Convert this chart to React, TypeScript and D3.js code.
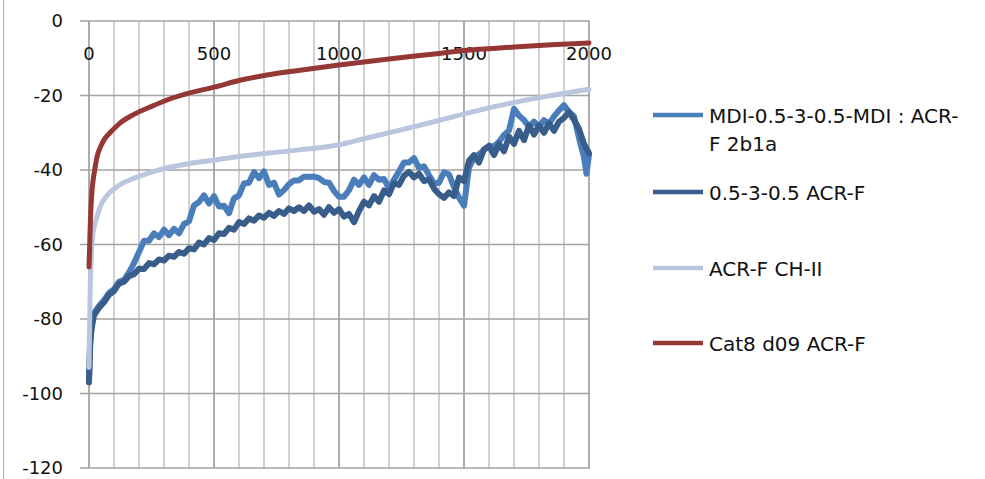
import React, { useRef, useEffect } from 'react';
import * as d3 from 'd3';

type Pt = [number, number];

// tick labels
const yTicks = [0, -20, -40, -60, -80, -100, -120];
const xTicks = [0, 500, 1000, 1500, 2000];
const xGrid = [0, 100, 200, 300, 400, 500, 600, 700, 800, 900, 1000, 1100, 1200, 1300, 1400, 1500, 1600, 1700, 1800, 1900, 2000];

const legendNames = ['MDI-0.5-3-0.5-MDI : ACR-|F 2b1a', '0.5-3-0.5 ACR-F', 'ACR-F CH-II', 'Cat8 d09 ACR-F'];

// MDI-0.5-3-0.5-MDI : ACR-F 2b1a
const mdiSeries: Pt[] = [
  [0, -96], [4, -87], [8, -83], [12, -81], [16, -80], [20, -78.5], [40, -76.5], [60, -75], [80, -73],
  [100, -72], [120, -70], [140, -69.5], [160, -67.5], [180, -65], [200, -62], [220, -59], [240, -59],
  [260, -57], [280, -58], [300, -56], [320, -57.5], [340, -55.8], [360, -57], [380, -54.5], [400, -53.8],
  [420, -49.5], [440, -48.6], [460, -46.8], [480, -49], [500, -47], [520, -49.8], [540, -49.6], [560, -51.6],
  [580, -47.6], [600, -46.8], [620, -43.6], [640, -43.4], [660, -40.6], [680, -42.2], [700, -40.4], [720, -44],
  [740, -43.4], [760, -46.6], [780, -45.4], [800, -43.8], [820, -42.8], [840, -42.8], [860, -41.8],
  [880, -41.8], [900, -41.8], [920, -42.2], [940, -43.2], [960, -43.4], [980, -45.6], [1000, -47.2],
  [1020, -47.2], [1040, -45.4], [1060, -42.6], [1080, -44], [1100, -42], [1120, -44], [1140, -41.4],
  [1160, -42.6], [1180, -42.4], [1200, -45], [1220, -42.6], [1240, -40.4], [1260, -38], [1280, -38],
  [1300, -36.8], [1320, -39.4], [1340, -39], [1360, -41.4], [1380, -43.6], [1400, -43.4], [1420, -40.6],
  [1440, -41.2], [1460, -44.6], [1480, -47.4], [1500, -49.6], [1520, -39.4], [1540, -36.6], [1560, -35.8],
  [1580, -34.6], [1600, -33.6], [1620, -33.6], [1640, -32.4], [1660, -30.6], [1680, -29.4], [1700, -23.6],
  [1720, -25.4], [1740, -26.6], [1760, -28.4], [1780, -27], [1800, -28.4], [1820, -26.6], [1840, -27.6],
  [1860, -25.6], [1880, -24], [1900, -22.6], [1920, -24.4], [1940, -25.6], [1960, -31.4], [1980, -36.6],
  [1990, -41], [2000, -36]
];

// 0.5-3-0.5 ACR-F
const baseSeries: Pt[] = [
  [0, -97], [2, -93], [4, -88], [8, -84], [12, -82], [16, -80.5], [20, -79], [40, -77], [60, -75.5],
  [80, -73.5], [100, -72.5], [120, -70.5], [140, -70], [160, -68.5], [180, -68], [200, -66.5], [220, -66.6],
  [240, -65], [260, -65.3], [280, -64], [300, -64.3], [320, -63], [340, -63.3], [360, -62], [380, -62.5],
  [400, -61], [420, -61.3], [440, -59.5], [460, -60], [480, -58.3], [500, -58.8], [520, -57], [540, -57.2],
  [560, -55.5], [580, -56], [600, -54], [620, -54.5], [640, -53], [660, -53.6], [680, -52.2], [700, -52.8],
  [720, -51.5], [740, -52.3], [760, -51], [780, -51.8], [800, -50.3], [820, -51], [840, -50], [860, -51],
  [880, -49.5], [900, -51.2], [920, -50.5], [940, -52], [960, -50], [980, -51.5], [1000, -50.5],
  [1020, -52.5], [1040, -51.8], [1060, -54], [1080, -51], [1100, -48.5], [1120, -49.5], [1140, -47],
  [1160, -48.5], [1180, -45.5], [1200, -46.5], [1220, -43.5], [1240, -44], [1260, -41.5], [1280, -40.5],
  [1300, -42], [1320, -41], [1340, -43], [1360, -42.5], [1380, -45], [1400, -46.5], [1420, -47.5],
  [1440, -46], [1460, -47], [1480, -42], [1500, -43], [1520, -37.5], [1540, -36], [1560, -38],
  [1580, -34.5], [1600, -33.5], [1620, -36], [1640, -33], [1660, -35], [1680, -31], [1700, -33],
  [1720, -29.5], [1740, -32], [1760, -28], [1780, -30.5], [1800, -28], [1820, -30], [1840, -27.5],
  [1860, -29.5], [1880, -27], [1900, -26], [1920, -24.5], [1940, -26.5], [1960, -29], [1980, -33],
  [2000, -35.5]
];

// ACR-F CH-II
const chSeries: Pt[] = [
  [0, -93], [2, -84], [4, -75], [8, -65], [16, -57], [30, -53], [44, -50], [70, -47], [112, -44.5],
  [176, -42.3], [240, -40.8], [312, -39.4], [400, -38.3], [504, -37.3], [600, -36.4], [712, -35.5],
  [844, -34.6], [964, -33.6], [1000, -33.2], [1100, -31.6], [1244, -29.3], [1400, -26.7], [1508, -24.8],
  [1712, -21.7], [1850, -20], [2000, -18.3]
];

// Cat8 d09 ACR-F
const cat8Series: Pt[] = [
  [0, -66], [2, -62], [4, -57], [8, -50], [12, -45.5], [16, -43], [24, -39.5], [32, -36.5], [48, -33.5],
  [64, -31.5], [84, -30], [124, -27.4], [176, -25.2], [244, -23.1], [312, -21.2], [392, -19.5],
  [504, -17.7], [604, -15.9], [712, -14.5], [844, -13.2], [1000, -11.8], [1200, -10.2], [1400, -8.7],
  [1500, -7.9], [1700, -7], [1850, -6.4], [2000, -5.9]
];

const COLORS = ['#4a7ebb', '#385d8a', '#b9c6de', '#953735'];
const FONT = '"DejaVu Sans", sans-serif';

function drawChart(svgEl: SVGSVGElement) {
  const svg = d3.select(svgEl);
  svg.selectAll('*').remove();

  const x = d3.scaleLinear().domain([0, 2000]).range([89, 589]);
  const y = d3.scaleLinear().domain([-120, 0]).range([468, 21]);

  // outer border on the left
  svg.append('line')
    .attr('x1', 3.5).attr('x2', 3.5).attr('y1', 0).attr('y2', 479)
    .attr('stroke', '#b0b0b0').attr('stroke-width', 1);

  // vertical gridlines, darker every 500
  svg.selectAll('.vgrid')
    .data(xGrid)
    .enter()
    .append('line')
    .attr('x1', (d) => x(d)).attr('x2', (d) => x(d))
    .attr('y1', y(0)).attr('y2', y(-120))
    .attr('stroke', (d) => (d % 500 === 0 ? '#999999' : '#c6c6c6'))
    .attr('stroke-width', 1.6);

  // horizontal gridlines (with tick stub on the left)
  svg.selectAll('.hgrid')
    .data(yTicks)
    .enter()
    .append('line')
    .attr('x1', x(0) - 9).attr('x2', x(2000) + 1)
    .attr('y1', (d) => y(d)).attr('y2', (d) => y(d))
    .attr('stroke', '#a3a3a3')
    .attr('stroke-width', 1.6);

  // y labels
  svg.selectAll('.ylab')
    .data(yTicks)
    .enter()
    .append('text')
    .attr('x', 63).attr('y', (d) => y(d)).attr('dy', '0.36em')
    .attr('text-anchor', 'end')
    .attr('font-family', FONT).attr('font-size', 18).attr('fill', '#111')
    .text((d) => d);

  // x labels (axis crosses at 0, labels sit under the top line)
  svg.selectAll('.xlab')
    .data(xTicks)
    .enter()
    .append('text')
    .attr('x', (d) => x(d)).attr('y', 54).attr('dy', '0.36em')
    .attr('text-anchor', 'middle')
    .attr('font-family', FONT).attr('font-size', 18).attr('fill', '#111')
    .text((d) => d);

  const line = d3.line<Pt>().x((d) => x(d[0])).y((d) => y(d[1]));
  const smooth = d3.line<Pt>().x((d) => x(d[0])).y((d) => y(d[1])).curve(d3.curveMonotoneX);

  const series: { data: Pt[]; gen: d3.Line<Pt>; width: number }[] = [
    { data: mdiSeries, gen: line, width: 6 },
    { data: baseSeries, gen: line, width: 6 },
    { data: chSeries, gen: smooth, width: 5 },
    { data: cat8Series, gen: smooth, width: 5 }
  ];
  series.forEach((s, i) => {
    svg.append('path')
      .attr('d', s.gen(s.data) as string)
      .attr('fill', 'none')
      .attr('stroke', COLORS[i])
      .attr('stroke-width', s.width)
      .attr('stroke-linejoin', 'round')
      .attr('stroke-linecap', 'round');
  });

  // legend
  const legendY = [115, 192, 268, 343];
  legendNames.forEach((name, i) => {
    const g = svg.append('g');
    g.append('line')
      .attr('x1', 653).attr('x2', 703)
      .attr('y1', legendY[i]).attr('y2', legendY[i])
      .attr('stroke', COLORS[i]).attr('stroke-width', 4.5);
    name.split('|').forEach((part, j) => {
      g.append('text')
        .attr('x', 709).attr('y', legendY[i] + 8 + j * 28)
        .attr('font-family', FONT).attr('font-size', 20).attr('fill', '#111')
        .text(part);
    });
  });
}

export default function App(): JSX.Element {
  const svgRef = useRef<SVGSVGElement>(null);

  useEffect(() => {
    document.body.style.margin = '0';
    if (svgRef.current == null) {
      return;
    }
    drawChart(svgRef.current);
  }, []);

  return <svg ref={svgRef} width={985} height={479} style={{ display: 'block', background: '#fff' }} />;
}
